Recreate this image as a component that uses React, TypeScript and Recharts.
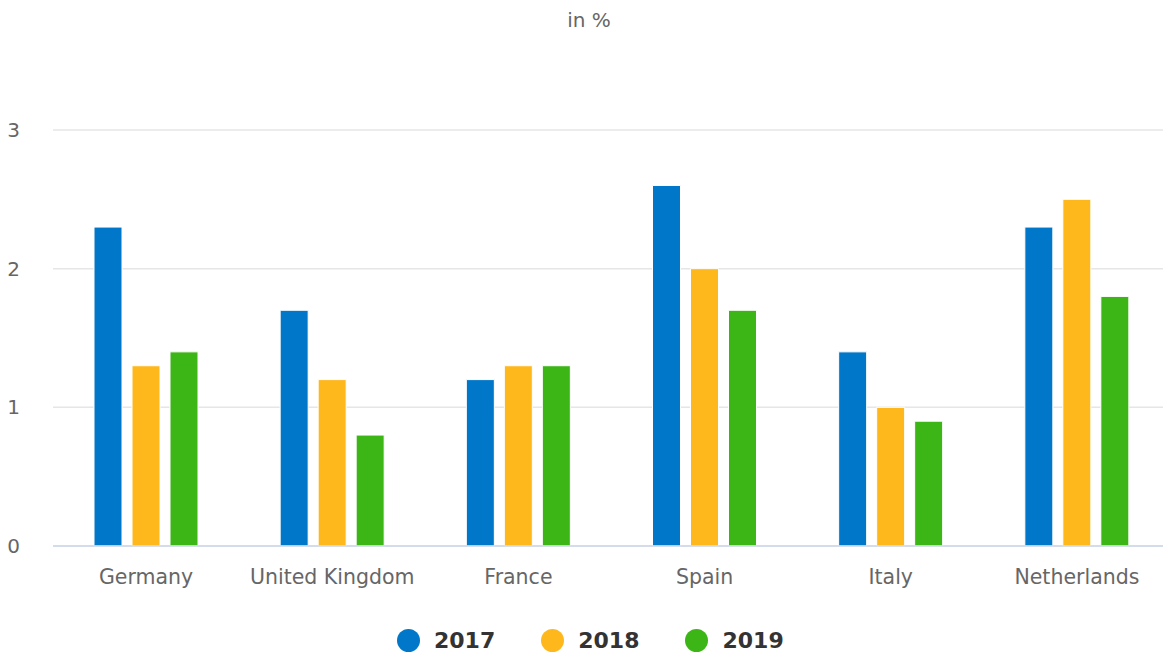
import React from "react";
import { BarChart, Bar, XAxis, YAxis, CartesianGrid, Legend, Customized } from "recharts";

const categories = ["Germany", "United Kingdom", "France", "Spain", "Italy", "Netherlands"];
const series2017 = [2.3, 1.7, 1.2, 2.6, 1.4, 2.3];
const series2018 = [1.3, 1.2, 1.3, 2.0, 1.0, 2.5];
const series2019 = [1.4, 0.8, 1.3, 1.7, 0.9, 1.8];
const yTicks = [0, 1, 2, 3];
const seriesNames = ["2017", "2018", "2019"];
const colors = ["#0077c8", "#ffb81c", "#3cb516"];

const data = categories.map((c, i) => ({
  name: c,
  "2017": series2017[i],
  "2018": series2018[i],
  "2019": series2019[i],
}));

const FONT = "'DejaVu Sans', Verdana, sans-serif";

const LegendContent = () => (
  <div style={{ display: "flex", justifyContent: "flex-start", height: 28, fontFamily: FONT }}>
    <div style={{ display: "flex", alignItems: "center", marginLeft: 397 }}>
      {seriesNames.map((n, i) => (
        <div key={n} style={{ display: "flex", alignItems: "center", marginRight: 46 }}>
          <span
            style={{
              display: "inline-block",
              width: 23,
              height: 23,
              borderRadius: "50%",
              background: colors[i],
              marginRight: 14,
            }}
          />
          <span style={{ fontSize: 22, fontWeight: "bold", color: "#333333" }}>{n}</span>
        </div>
      ))}
    </div>
  </div>
);

const Title = () => (
  <text x={589} y={27} textAnchor="middle" fontSize={20} fill="#666666" fontFamily={FONT}>
    in %
  </text>
);

export default function App() {
  return (
    <div style={{ position: "absolute", left: 0, top: 0, width: 1163, height: 653, overflow: "hidden" }}>
      <BarChart
        width={1163}
        height={653}
        data={data}
        margin={{ top: 130, right: -7, left: 0, bottom: 49 }}
        barSize={28}
        barGap={10}
      >
        <CartesianGrid vertical={false} stroke="#e6e6e6" strokeWidth={1.5} />
        <XAxis
          dataKey="name"
          height={30}
          tickLine={false}
          tickSize={0}
          tickMargin={23}
          axisLine={{ stroke: "#ccd6eb", strokeWidth: 1.5 }}
          tick={{ fill: "#666666", fontSize: 20.5, fontFamily: FONT }}
          interval={0}
        />
        <YAxis
          width={53}
          domain={[0, 3]}
          ticks={yTicks}
          axisLine={false}
          tickLine={false}
          tickSize={0}
          tickMargin={33}
          tick={{ fill: "#666666", fontSize: 20, fontFamily: FONT }}
        />
        <Legend
          verticalAlign="bottom"
          content={<LegendContent />}
          wrapperStyle={{ top: 626, bottom: "auto", left: 0, width: 1163 }}
        />
        {seriesNames.map((n, i) => (
          <Bar key={n} dataKey={n} fill={colors[i]} stroke="#ffffff" strokeWidth={1} isAnimationActive={false} />
        ))}
        <Customized component={Title} />
      </BarChart>
    </div>
  );
}
